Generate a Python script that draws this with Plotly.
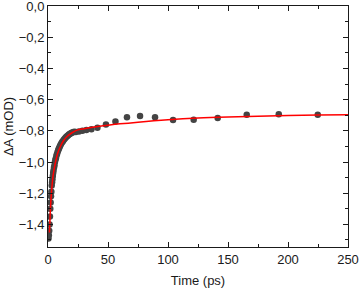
import plotly.graph_objects as go

# measured data points (time in ps, ΔA in mOD)
data_t = [0.4, 0.7, 1.0, 1.3, 1.6, 1.9, 2.2, 2.5, 2.8, 3.1, 3.4, 3.7, 4.0, 4.3, 4.6,
          5.0, 5.4, 5.8, 6.2, 6.6, 7.0, 7.5, 8.0, 8.5, 9.0, 9.5, 10.0, 10.6, 11.2,
          11.8, 12.4, 13.0, 13.7, 14.4, 15.1, 15.8, 16.6, 17.4, 18.2, 19.0, 19.9,
          20.8, 21.8, 23.1, 25.8, 28.7, 32.0, 36.2, 41.2, 48.3, 56.2, 65.8, 76.7,
          89.2, 104.2, 121.4, 141.4, 165.6, 192.3, 224.8]
data_v = [-1.49, -1.47, -1.44, -1.40, -1.35, -1.30, -1.26, -1.22, -1.19, -1.15,
          -1.13, -1.11, -1.09, -1.07, -1.055, -1.035, -1.02, -1.00, -0.985, -0.975,
          -0.96, -0.948, -0.935, -0.925, -0.915, -0.906, -0.897, -0.888, -0.88,
          -0.872, -0.866, -0.858, -0.852, -0.846, -0.84, -0.835, -0.829, -0.824,
          -0.82, -0.816, -0.812, -0.809, -0.806, -0.808, -0.804, -0.800, -0.795,
          -0.789, -0.780, -0.759, -0.740, -0.712, -0.704, -0.712, -0.731, -0.729,
          -0.717, -0.697, -0.693, -0.697]

# fitted curve
fit_t = [1.2, 1.6, 2.0, 2.6, 3.3, 4.2, 5.0, 6.1, 8.0, 10.3, 13.0, 15.8, 20.0,
         24.2, 30.0, 40.0, 50.0, 60.0, 75.0, 100.0, 125.0, 150.0, 175.0, 200.0,
         225.0, 250.0]
fit_v = [-1.452, -1.38, -1.304, -1.225, -1.155, -1.09, -1.05, -1.006, -0.945,
         -0.900, -0.862, -0.836, -0.812, -0.795, -0.786, -0.774, -0.764, -0.755,
         -0.744, -0.729, -0.718, -0.711, -0.706, -0.702, -0.699, -0.697]

x_range = [0, 250]
y_range = [-1.545, 0.001]

FONT = "Liberation Sans, Arial, sans-serif"
INK = "#1a1a1a"

fig = go.Figure()
fig.add_trace(go.Scatter(x=data_t, y=data_v, mode="markers",
                         marker=dict(size=6.5, color="#444444"), showlegend=False))
fig.add_trace(go.Scatter(x=fit_t, y=fit_v, mode="lines", line_shape="spline",
                         line=dict(color="#ff0000", width=1.5), showlegend=False))

axis_common = dict(showline=True, linecolor=INK, linewidth=1, mirror="ticks",
                   ticks="inside", ticklen=5, tickcolor=INK, showgrid=False,
                   zeroline=False, automargin=False, ticklabeloverflow="allow",
                   tickfont=dict(family=FONT, size=13, color=INK))

fig.update_xaxes(range=x_range, dtick=50, tick0=0,
                 minor=dict(ticks="inside", ticklen=3, dtick=25, tickcolor=INK),
                 title=dict(text="Time (ps)", font=dict(family=FONT, size=13, color=INK), standoff=10),
                 **axis_common)
fig.update_yaxes(range=y_range, dtick=0.2, tick0=0, tickformat=".1f",
                 minor=dict(ticks="inside", ticklen=3, dtick=0.1, tickcolor=INK),
                 title=dict(text="ΔA (mOD)", font=dict(family=FONT, size=13, color=INK), standoff=2),
                 **axis_common)

fig.update_layout(width=360, height=290, margin=dict(l=48, r=12, t=6, b=43),
                  paper_bgcolor="white", plot_bgcolor="white", separators=", ")

fig.write_html("out.html", config={"displayModeBar": False},
               post_script="document.body.style.margin='0';document.body.style.overflow='hidden';")
